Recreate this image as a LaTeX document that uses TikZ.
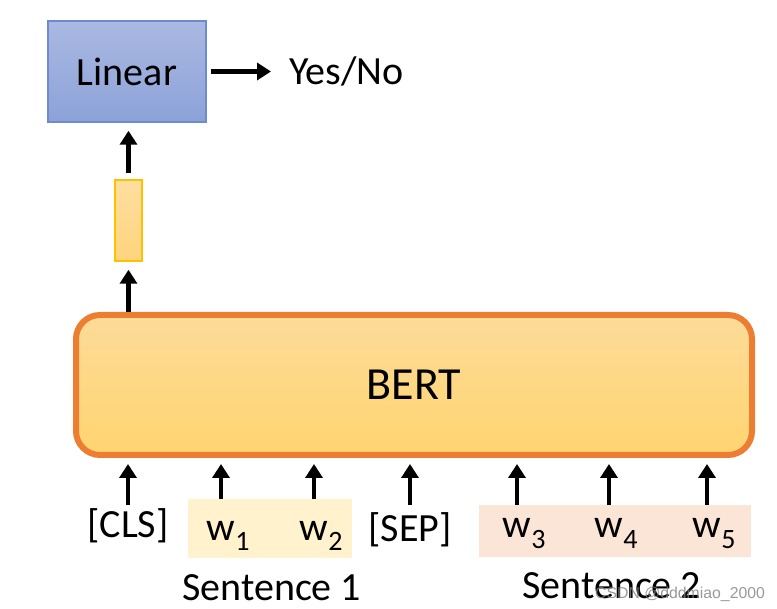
\documentclass[tikz,border=0pt]{standalone}
\usepackage{fontspec}
\setmainfont{Carlito}
\newfontfamily\wmfont{Liberation Sans}
\usetikzlibrary{arrows.meta,calc}
\definecolor{linbord}{RGB}{109,139,207}
\definecolor{lintop}{RGB}{170,185,226}
\definecolor{linbot}{RGB}{140,162,216}
\definecolor{vecbord}{RGB}{255,192,0}
\definecolor{vectop}{RGB}{254,223,159}
\definecolor{vecbot}{RGB}{254,212,125}
\definecolor{bertbord}{RGB}{237,125,49}
\definecolor{berttop}{RGB}{253,219,153}
\definecolor{bertbot}{RGB}{255,212,112}
\definecolor{sonefill}{RGB}{255,242,204}
\definecolor{stwofill}{RGB}{251,229,214}
\newcommand{\wsub}[1]{w\rlap{\raisebox{-10pt}{\fontsize{28}{28}\selectfont #1}}}
\tikzset{
  arr/.style={line width=4.5pt,-{Triangle[length=14pt,width=17pt]}},
  tok/.style={inner sep=0pt,anchor=base,font=\fontsize{40}{40}\selectfont},
  lbl/.style={inner sep=0pt,anchor=base west,font=\fontsize{40}{40}\selectfont},
}
\begin{document}
\begin{tikzpicture}[x=1pt,y=-1pt]
\useasboundingbox (0,0) rectangle (777,609);
% sentence backgrounds
\node[fill=sonefill,minimum width=164pt,minimum height=59pt,inner sep=0pt] (s1) at (270,528.5) {};
\node[fill=stwofill,minimum width=272pt,minimum height=52pt,inner sep=0pt] (s2) at (615,531) {};
% main boxes
\node[draw=linbord,line width=1.5pt,top color=lintop,bottom color=linbot,minimum width=158pt,minimum height=101pt,inner sep=0pt,font=\fontsize{40}{40}\selectfont] (lin) at (127,71.5) {Linear};
\node[draw=vecbord,line width=1.5pt,top color=vectop,bottom color=vecbot,minimum width=27pt,minimum height=81pt,inner sep=0pt] (vec) at (128.5,220.5) {};
\node[draw=bertbord,line width=6pt,rounded corners=24pt,top color=berttop,bottom color=bertbot,minimum width=676pt,minimum height=140pt,inner sep=0pt,font=\fontsize{46}{46}\selectfont] (bert) at (414,385) {BERT};
% output
\node[lbl] (yes) at (289,85) {Yes/No};
% tokens
\node[tok] (cls) at (128,537) {[CLS]};
\node[tok] (w1) at (221,540) {\wsub{1}};
\node[tok] (w2) at (314,540) {\wsub{2}};
\node[tok] (sep) at (410,541) {[SEP]};
\node[tok] (w3) at (517,538) {\wsub{3}};
\node[tok] (w4) at (609,538) {\wsub{4}};
\node[tok] (w5) at (707,538) {\wsub{5}};
\node[lbl] (st1) at (182,600) {Sentence 1};
\node[lbl] (st2) at (522,598) {Sentence 2};
% arrows
\draw[arr,shorten <=4pt,shorten >=18pt] (lin.east) -- (yes.west |- lin.east);
\draw[arr,shorten <=6pt,shorten >=8pt] (vec.north) -- (vec.north |- lin.south);
\draw[arr,shorten >=8pt] (vec.south |- bert.north) -- (vec.south);
\foreach \t in {cls,sep,w3,w4,w5}{
  \draw[arr,shorten >=6pt] (\t |- s2.north) -- (\t |- bert.south);
}
\foreach \t in {w1,w2}{
  \draw[arr,shorten >=6pt] (\t |- s1.north) -- (\t |- bert.south);
}
% watermark
\node[inner sep=0pt,anchor=base west,text=black!50,opacity=0.8,font=\wmfont\fontsize{15.8}{16}\selectfont] (wm) at (595,598) {CSDN @dddmiao\_2000};
\end{tikzpicture}
\end{document}
